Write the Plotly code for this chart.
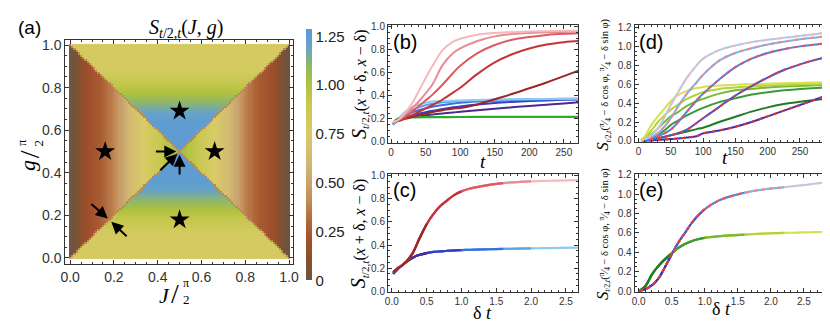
#!/usr/bin/env python
"""Entanglement map S_{t/2,t}(J, g) plus growth curves, panels (a)-(e)."""

import plotly.graph_objects as go

W, H = 830, 322

# ---- panel (a): colour profiles (one value per 0.01 step) ----
# left/right triangles: value vs distance from the J = 0 / J = 1 edge
side_val = [0.02, 0.02, 0.03, 0.05, 0.08, 0.12, 0.15, 0.17, 0.19, 0.20,
            0.21, 0.22, 0.23, 0.24, 0.26, 0.28, 0.30, 0.32, 0.34, 0.36,
            0.39, 0.42, 0.45, 0.48, 0.51, 0.54, 0.57, 0.60, 0.63, 0.65,
            0.67, 0.69, 0.71, 0.73, 0.75, 0.77, 0.79, 0.81, 0.83, 0.85,
            0.87, 0.89, 0.91, 0.93, 0.95, 0.97, 0.99, 1.01, 1.03, 1.05, 1.05]
# top/bottom triangles: value vs distance from the g = 0 / g = 1 edge
mid_val = [0.78, 0.78, 0.78, 0.78, 0.78, 0.78, 0.78, 0.79, 0.79, 0.79,
           0.79, 0.80, 0.81, 0.82, 0.84, 0.86, 0.88, 0.90, 0.92, 0.94,
           0.96, 0.98, 1.00, 1.02, 1.04, 1.06, 1.08, 1.10, 1.12, 1.14,
           1.16, 1.18, 1.20, 1.21, 1.22, 1.23, 1.24, 1.25, 1.25, 1.25,
           1.25, 1.25, 1.25, 1.25, 1.25, 1.25, 1.25, 1.25, 1.25, 1.25, 1.25]
diag_val = 0.40
grid_vals = [k / 100 for k in range(101)]

star_J = [0.16, 0.5, 0.66, 0.5]
star_g = [0.5, 0.69, 0.5, 0.18]

arrow_head_J = [0.485, 0.5, 0.49, 0.172, 0.188]
arrow_head_g = [0.5, 0.485, 0.49, 0.186, 0.17]
arrow_tail_J = [0.385, 0.5, 0.405, 0.09, 0.265]
arrow_tail_g = [0.5, 0.385, 0.405, 0.26, 0.095]

cbar_vals = [0, 0.25, 0.5, 0.75, 1.0, 1.25]
cbar_text = ["0", "0.25", "0.50", "0.75", "1.00", "1.25"]

# ---- panel (b): curves vs t, delta = 0.002 ... 0.01 ----
t_b = [3, 10, 20, 30, 40, 50, 60, 75, 90, 100, 125, 150, 175, 200, 225, 250, 272]
red_b = [
    [0.17, 0.18, 0.20, 0.215, 0.23, 0.245, 0.26, 0.275, 0.29, 0.295, 0.325, 0.37, 0.415, 0.465, 0.515, 0.57, 0.62],
    [0.17, 0.18, 0.205, 0.23, 0.26, 0.29, 0.32, 0.37, 0.43, 0.47, 0.59, 0.69, 0.76, 0.81, 0.845, 0.865, 0.875],
    [0.17, 0.185, 0.22, 0.26, 0.31, 0.36, 0.41, 0.50, 0.60, 0.66, 0.77, 0.84, 0.885, 0.91, 0.928, 0.938, 0.943],
    [0.17, 0.19, 0.235, 0.29, 0.35, 0.42, 0.50, 0.67, 0.77, 0.81, 0.875, 0.915, 0.935, 0.945, 0.95, 0.954, 0.956],
    [0.17, 0.19, 0.25, 0.33, 0.44, 0.555, 0.66, 0.80, 0.87, 0.895, 0.93, 0.945, 0.952, 0.957, 0.96, 0.963, 0.965],
]
blue_b = [
    [0.15, 0.19, 0.205, 0.215, 0.222, 0.23, 0.237, 0.247, 0.256, 0.262, 0.275, 0.288, 0.30, 0.312, 0.323, 0.334, 0.343],
    [0.15, 0.19, 0.215, 0.23, 0.245, 0.258, 0.27, 0.285, 0.30, 0.308, 0.325, 0.338, 0.347, 0.354, 0.36, 0.365, 0.368],
    [0.15, 0.19, 0.23, 0.255, 0.275, 0.29, 0.305, 0.32, 0.333, 0.34, 0.35, 0.357, 0.361, 0.365, 0.368, 0.37, 0.372],
    [0.15, 0.195, 0.24, 0.275, 0.30, 0.318, 0.33, 0.343, 0.35, 0.354, 0.36, 0.365, 0.368, 0.37, 0.372, 0.374, 0.375],
    [0.15, 0.20, 0.26, 0.30, 0.325, 0.34, 0.35, 0.355, 0.358, 0.36, 0.364, 0.367, 0.369, 0.371, 0.373, 0.374, 0.376],
]
green_t = [3, 6, 10, 16, 25, 50, 100, 150, 200, 272]
green_y = [0.16, 0.185, 0.20, 0.208, 0.212, 0.215, 0.216, 0.217, 0.218, 0.218]

# ---- panel (c): collapsed curves vs delta*t ----
dt_c = [0.02, 0.05, 0.1, 0.15, 0.2, 0.3, 0.4, 0.5, 0.6, 0.7, 0.8, 0.9, 1.0, 1.1,
        1.2, 1.4, 1.6, 1.8, 2.0, 2.2, 2.4, 2.7]
red_c = [0.165, 0.18, 0.205, 0.225, 0.25, 0.33, 0.46, 0.58, 0.67, 0.74, 0.79, 0.835,
         0.865, 0.885, 0.90, 0.922, 0.937, 0.946, 0.952, 0.956, 0.959, 0.962]
blue_c = [0.15, 0.17, 0.20, 0.225, 0.25, 0.29, 0.315, 0.33, 0.34, 0.345, 0.35, 0.353,
          0.356, 0.358, 0.36, 0.363, 0.366, 0.369, 0.371, 0.373, 0.375, 0.377]
seg_end_c = [0.54, 1.08, 1.62, 2.16, 2.7]

# ---- panel (d): curves vs t ----
t_d = [4, 10, 20, 30, 40, 50, 60, 75, 90, 100, 125, 150, 175, 200, 225, 250, 275, 295]
dash_d = [
    [0.0, 0.0, 0.005, 0.01, 0.015, 0.02, 0.025, 0.035, 0.05, 0.08, 0.11, 0.15, 0.20, 0.26, 0.32, 0.38, 0.44, 0.49],
    [0.0, 0.005, 0.015, 0.025, 0.04, 0.06, 0.08, 0.12, 0.19, 0.24, 0.36, 0.48, 0.58, 0.67, 0.75, 0.81, 0.86, 0.89],
    [0.0, 0.01, 0.025, 0.05, 0.08, 0.12, 0.19, 0.31, 0.43, 0.50, 0.65, 0.78, 0.87, 0.93, 0.97, 1.0, 1.02, 1.04],
    [0.0, 0.015, 0.045, 0.08, 0.15, 0.24, 0.35, 0.50, 0.62, 0.70, 0.85, 0.93, 0.98, 1.02, 1.05, 1.075, 1.095, 1.11],
    [0.0, 0.02, 0.06, 0.13, 0.25, 0.38, 0.50, 0.67, 0.80, 0.87, 0.96, 1.01, 1.045, 1.07, 1.09, 1.11, 1.13, 1.15],
]
green_d = [
    [0.0, 0.005, 0.015, 0.03, 0.045, 0.06, 0.075, 0.10, 0.125, 0.14, 0.20, 0.255, 0.31, 0.355, 0.39, 0.415, 0.435, 0.45],
    [0.0, 0.015, 0.035, 0.07, 0.11, 0.17, 0.21, 0.27, 0.32, 0.35, 0.41, 0.45, 0.49, 0.515, 0.535, 0.55, 0.56, 0.565],
    [0.01, 0.025, 0.07, 0.13, 0.20, 0.26, 0.30, 0.37, 0.42, 0.445, 0.50, 0.535, 0.55, 0.565, 0.575, 0.582, 0.588, 0.59],
    [0.01, 0.035, 0.11, 0.20, 0.27, 0.33, 0.38, 0.445, 0.49, 0.515, 0.55, 0.565, 0.575, 0.585, 0.592, 0.597, 0.60, 0.603],
    [0.01, 0.05, 0.17, 0.26, 0.34, 0.42, 0.48, 0.53, 0.56, 0.57, 0.585, 0.595, 0.60, 0.605, 0.61, 0.613, 0.617, 0.62],
]

# ---- panel (e): collapsed curves vs delta*t ----
dt_e = [0.0, 0.1, 0.2, 0.3, 0.4, 0.5, 0.6, 0.7, 0.8, 0.9, 1.0, 1.2, 1.4, 1.6, 1.8,
        2.0, 2.2, 2.4, 2.6, 2.8, 2.95]
dash_e = [0.0, 0.02, 0.06, 0.13, 0.25, 0.38, 0.50, 0.60, 0.70, 0.78, 0.845, 0.93,
          0.98, 1.015, 1.04, 1.058, 1.072, 1.087, 1.102, 1.12, 1.135]
green_e = [0.0, 0.05, 0.17, 0.26, 0.33, 0.39, 0.445, 0.485, 0.515, 0.535, 0.55, 0.565,
           0.575, 0.583, 0.59, 0.597, 0.60, 0.604, 0.607, 0.61, 0.612]
seg_end_e = [0.59, 1.18, 1.77, 2.36, 2.95]

# colours, darkest (smallest delta) first
red_cols = ["#9a2626", "#c4333a", "#dc5a62", "#ea8b92", "#f3b9bd"]
blue_cols = ["#4b2b8c", "#3a3ac4", "#3b6fe0", "#5aa2ea", "#8fcaf2"]
green_col = "#2eab2e"
dblue_cols = ["#3a30c0", "#3f55d8", "#4f80e6", "#74b6f0", "#9fd2f5"]
dred_cols = ["#d8333a", "#dc3d45", "#e05860", "#ea8a90", "#f3b6ba"]
dgreen_cols = ["#1f7a26", "#3a9a35", "#78b83a", "#b4d23c", "#d6e04a"]

cmax = 1.285
cstops = [(0.0, "#6b5540"), (0.1, "#86502f"), (0.2, "#a0502a"), (0.3, "#b0683a"),
          (0.4, "#c08a55"), (0.5, "#c9a46e"), (0.6, "#d2b775"), (0.75, "#d8cb66"),
          (0.9, "#c8c850"), (1.0, "#b2c23f"), (1.1, "#8eb66a"), (1.2, "#66a2c6"),
          (1.285, "#5a98da")]
colorscale = [[v / cmax, c] for v, c in cstops]


def px(x, y):
    return x / W, 1 - y / H


def main():
    z = []
    for j in range(len(grid_vals)):
        row = []
        for i in range(len(grid_vals)):
            a, b = abs(i - 50), abs(j - 50)
            if a == b:
                row.append(diag_val)
            elif a > b:
                row.append(side_val[50 - a])
            else:
                row.append(mid_val[50 - b])
        z.append(row)

    fig = go.Figure()
    fig.add_trace(go.Heatmap(
        x=grid_vals, y=grid_vals, z=z, colorscale=colorscale, zmin=0, zmax=cmax,
        xaxis="x", yaxis="y", hoverinfo="skip",
        colorbar=dict(
            x=297 / W, xanchor="left", y=1 - 17 / H, yanchor="top",
            len=259 / H, lenmode="fraction", thickness=6, outlinewidth=0,
            xpad=0, ypad=0, tickvals=cbar_vals, ticktext=cbar_text,
            ticks="", tickfont=dict(size=15, color="#222", family="Liberation Sans"),
        ),
    ))
    fig.add_trace(go.Scatter(
        x=star_J, y=star_g, mode="markers", xaxis="x", yaxis="y",
        marker=dict(symbol="star", size=15, color="black"),
    ))

    # (b)
    for k in range(5):
        fig.add_trace(go.Scatter(x=t_b, y=blue_b[k], mode="lines", xaxis="x2", yaxis="y2",
                                 line=dict(color=blue_cols[k], width=2, shape="spline")))
    fig.add_trace(go.Scatter(x=green_t, y=green_y, mode="lines", xaxis="x2", yaxis="y2",
                             line=dict(color=green_col, width=2.2, shape="spline")))
    for k in range(5):
        fig.add_trace(go.Scatter(x=t_b, y=red_b[k], mode="lines", xaxis="x2", yaxis="y2",
                                 line=dict(color=red_cols[k], width=2, shape="spline")))

    # (c): longest (lightest) segment first, darkest on top
    for series, cols in ((blue_c, blue_cols), (red_c, red_cols)):
        for k in reversed(range(5)):
            xs = [v for v in dt_c if v <= seg_end_c[k] + 1e-9]
            fig.add_trace(go.Scatter(x=xs, y=series[:len(xs)], mode="lines",
                                     xaxis="x3", yaxis="y3",
                                     line=dict(color=cols[k], width=2.2, shape="spline")))

    # (d)
    for k in range(5):
        fig.add_trace(go.Scatter(x=t_d, y=green_d[k], mode="lines", xaxis="x4", yaxis="y4",
                                 line=dict(color=dgreen_cols[k], width=2, shape="spline")))
    for k in range(5):
        fig.add_trace(go.Scatter(x=t_d, y=dash_d[k], mode="lines", xaxis="x4", yaxis="y4",
                                 line=dict(color=dblue_cols[k], width=2, shape="spline")))
        fig.add_trace(go.Scatter(x=t_d, y=dash_d[k], mode="lines", xaxis="x4", yaxis="y4",
                                 line=dict(color=dred_cols[k], width=2, shape="spline",
                                           dash="4px,4px")))

    # (e)
    for k in reversed(range(5)):
        xs = [v for v in dt_e if v <= seg_end_e[k] + 1e-9]
        fig.add_trace(go.Scatter(x=xs, y=green_e[:len(xs)], mode="lines", xaxis="x5", yaxis="y5",
                                 line=dict(color=dgreen_cols[k], width=2.2, shape="spline")))
    for k in reversed(range(5)):
        xs = [v for v in dt_e if v <= seg_end_e[k] + 1e-9]
        fig.add_trace(go.Scatter(x=xs, y=dash_e[:len(xs)], mode="lines", xaxis="x5", yaxis="y5",
                                 line=dict(color=dblue_cols[k], width=2, shape="spline")))
    for k in reversed(range(5)):
        xs = [v for v in dt_e if v <= seg_end_e[k] + 1e-9]
        fig.add_trace(go.Scatter(x=xs, y=dash_e[:len(xs)], mode="lines", xaxis="x5", yaxis="y5",
                                 line=dict(color=dred_cols[k], width=2, shape="spline",
                                           dash="4px,4px")))

    def axis(x0, x1, anchor, rng, dtick, fmt, mdtick, fsize, horiz=True):
        dom = [x0 / W, x1 / W] if horiz else [1 - x1 / H, 1 - x0 / H]
        return dict(
            domain=dom, anchor=anchor, range=rng, dtick=dtick, tick0=0, tickformat=fmt,
            showgrid=False, zeroline=False, showline=True, linecolor="#333", linewidth=1,
            mirror="allticks", ticks="inside", ticklen=4, tickcolor="#333",
            minor=dict(ticks="inside", ticklen=2, dtick=mdtick, tickcolor="#333", showgrid=False),
            tickfont=dict(size=fsize, color="#333", family="Liberation Sans"),
        )

    fig.update_layout(
        width=W, height=H, margin=dict(l=0, r=0, t=0, b=0),
        paper_bgcolor="white", plot_bgcolor="white", showlegend=False,
        font=dict(family="Liberation Sans", color="black"),
        xaxis=axis(53, 284, "y", [-0.022, 1.019], 0.2, ".1f", 0.05, 14),
        yaxis=axis(28, 259, "x", [-0.028, 1.023], 0.2, ".1f", 0.05, 14, horiz=False),
        xaxis2=axis(380, 573, "y2", [-4.5, 271], 50, "d", 10, 10),
        yaxis2=axis(12, 134, "x2", [-0.008, 1.017], 0.2, ".1f", 0.05, 10, horiz=False),
        xaxis3=axis(380, 573, "y3", [-0.055, 2.68], 0.5, ".1f", 0.1, 10),
        yaxis3=axis(166, 288, "x3", [-0.008, 1.017], 0.2, ".1f", 0.05, 10, horiz=False),
        xaxis4=axis(630, 827, "y4", [-6, 295], 50, "d", 10, 10),
        yaxis4=axis(12, 133, "x4", [-0.01, 1.23], 0.2, ".1f", 0.05, 10, horiz=False),
        xaxis5=axis(630, 827, "y5", [-0.06, 2.88], 0.5, ".1f", 0.1, 10),
        yaxis5=axis(166, 288, "x5", [-0.01, 1.21], 0.2, ".1f", 0.05, 10, horiz=False),
    )

    serif = "Liberation Serif"
    notes = []

    def text(x, y, s, size, family="Liberation Sans", angle=0):
        ax, ay = px(x, y)
        notes.append(dict(x=ax, y=ay, xref="paper", yref="paper", text=s, showarrow=False,
                          xanchor="center", yanchor="middle", textangle=angle,
                          font=dict(size=size, family=family, color="black")))

    text(17, 15, "(a)", 19)
    text(175, 16, "<i>S</i><sub><i>t</i>/2,<i>t</i></sub>(<i>J</i>, <i>g</i>)", 20, serif)
    text(154, 292, "<i>J</i>", 22, serif)
    text(164, 289, "/", 28, serif)
    text(175, 279, "π", 12, serif)
    text(176, 296, "2", 13, serif)
    text(14, 157, "<i>g</i>", 22, serif, -90)
    text(17, 146, "/", 28, serif, -90)
    text(9, 134, "π", 12, serif, -90)
    text(26, 134, "2", 13, serif, -90)

    for lab, x, y in (("(b)", 397, 30), ("(c)", 397, 183), ("(d)", 647, 30), ("(e)", 647, 183)):
        text(x, y, lab, 20)
    text(476, 153, "<i>t</i>", 19, serif)
    text(476, 310, "δ <i>t</i>", 18, serif)
    text(722, 149, "<i>t</i>", 19, serif)
    text(718, 306, "δ <i>t</i>", 18, serif)

    ylab_bc = ('<span style="font-size:20px"><i>S</i></span><sub><i>t</i>/2,<i>t</i></sub>'
               "(<i>x</i> + δ, <i>x</i> − δ)")
    ylab_de = ('<span style="font-size:17px"><i>S</i></span><sub><i>t</i>/2,<i>t</i></sub>'
               "(<sup>π</sup>⁄<sub>4</sub> − δ cos φ, <sup>π</sup>⁄<sub>4</sub> − δ sin φ)")
    text(351, 73, ylab_bc, 16, serif, -90)
    text(351, 227, ylab_bc, 16, serif, -90)
    text(598, 74, ylab_de, 10.5, serif, -90)
    text(598, 228, ylab_de, 10.5, serif, -90)

    for k in range(len(arrow_head_J)):
        notes.append(dict(
            x=arrow_head_J[k], y=arrow_head_g[k], ax=arrow_tail_J[k], ay=arrow_tail_g[k],
            xref="x", yref="y", axref="x", ayref="y", text="", showarrow=True,
            arrowhead=2, arrowsize=1.2, arrowwidth=2, arrowcolor="black",
        ))

    fig.update_layout(annotations=notes)
    fig.write_html("out.html")


if __name__ == "__main__":
    main()
